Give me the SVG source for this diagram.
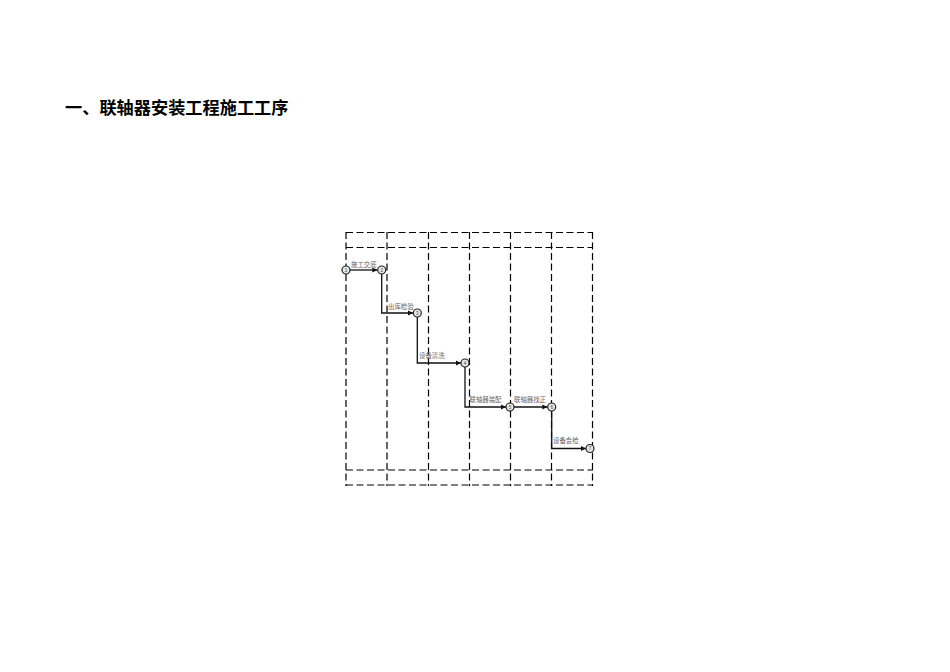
<svg xmlns="http://www.w3.org/2000/svg" width="950" height="672" viewBox="0 0 950 672">
<style>
.title{font-family:"Noto Sans CJK SC","Liberation Sans",sans-serif;font-size:17.2px;font-weight:bold;fill:#000}
.grid{stroke:#000;stroke-width:1.2;stroke-dasharray:7,3.5;fill:none}
.edge{stroke:#111;stroke-width:1.3;fill:none}
.lbl{font-family:"Noto Sans CJK SC","Liberation Serif",serif;font-size:6.4px;fill:#666}
.node circle{fill:#e6e6e6;stroke:#222;stroke-width:1.2}
.num{font-family:"Liberation Sans",sans-serif;font-size:4.5px;fill:#444;text-anchor:middle}
</style>
<defs>
<marker id="arr" viewBox="0 0 6 6" refX="6" refY="3" markerWidth="4" markerHeight="4" orient="auto">
<path d="M0,0 L6,3 L0,6 z" fill="#111"/>
</marker>
</defs>
<rect width="950" height="672" fill="#fff"/>
<text class="title" x="65" y="114">一、联轴器安装工程施工工序</text>
<g id="grid">
<line class="grid" x1="346" y1="232.5" x2="593" y2="232.5"/>
<line class="grid" x1="346" y1="247.5" x2="593" y2="247.5"/>
<line class="grid" x1="346" y1="470" x2="593" y2="470"/>
<line class="grid" x1="346" y1="485" x2="593" y2="485"/>
<line class="grid" x1="346" y1="232" x2="346" y2="486"/>
<line class="grid" x1="387" y1="232" x2="387" y2="486"/>
<line class="grid" x1="428.5" y1="232" x2="428.5" y2="486"/>
<line class="grid" x1="469.5" y1="232" x2="469.5" y2="486"/>
<line class="grid" x1="510.5" y1="232" x2="510.5" y2="486"/>
<line class="grid" x1="551.5" y1="232" x2="551.5" y2="486"/>
<line class="grid" x1="592.5" y1="232" x2="592.5" y2="486"/>
</g>
<g id="connectors">
<path class="edge" d="M350,270 H377.5" marker-end="url(#arr)"/>
<path class="edge" d="M381.7,274 V313 H413" marker-end="url(#arr)"/>
<path class="edge" d="M417.3,317 V363 H460.8" marker-end="url(#arr)"/>
<path class="edge" d="M465,367 V407 H506" marker-end="url(#arr)"/>
<path class="edge" d="M514,407 H547.5" marker-end="url(#arr)"/>
<path class="edge" d="M551.7,411 V448.5 H585.8" marker-end="url(#arr)"/>
<text class="lbl" x="351" y="267">施工交底</text>
<text class="lbl" x="388" y="309">出库检验</text>
<text class="lbl" x="419" y="358">设备清洗</text>
<text class="lbl" x="469.5" y="402">联轴器装配</text>
<text class="lbl" x="514" y="402">联轴器找正</text>
<text class="lbl" x="553" y="443">设备会检</text>
</g>
<g id="n1" class="node"><circle cx="346" cy="270" r="4"/><text class="num" x="346" y="271.6">1</text></g>
<g id="n2" class="node"><circle cx="381.7" cy="270" r="4"/><text class="num" x="381.7" y="271.6">2</text></g>
<g id="n3" class="node"><circle cx="417.3" cy="313" r="4"/><text class="num" x="417.3" y="314.6">3</text></g>
<g id="n4" class="node"><circle cx="465" cy="363" r="4"/><text class="num" x="465" y="364.6">4</text></g>
<g id="n5" class="node"><circle cx="510" cy="407" r="4"/><text class="num" x="510" y="408.6">5</text></g>
<g id="n6" class="node"><circle cx="551.7" cy="407" r="4"/><text class="num" x="551.7" y="408.6">6</text></g>
<g id="n7" class="node"><circle cx="590" cy="448.5" r="4"/><text class="num" x="590" y="450.1">7</text></g>
</svg>
